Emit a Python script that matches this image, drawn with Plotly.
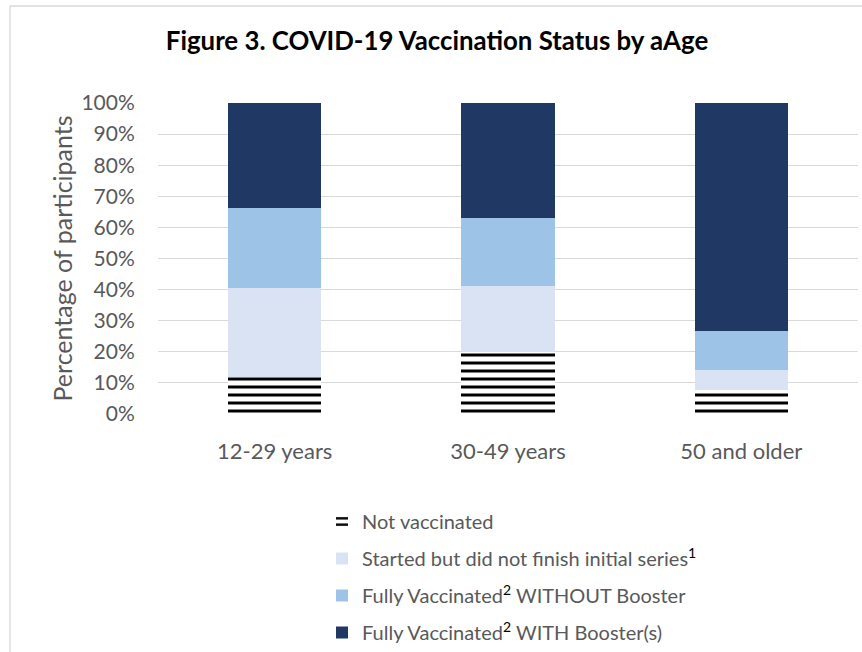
import plotly.graph_objects as go

categories = ["12-29 years", "30-49 years", "50 and older"]
not_vaccinated = [12.0, 19.8, 7.6]
started_not_finished = [28.4, 21.4, 6.6]
fully_without_booster = [26.0, 21.9, 12.6]
fully_with_booster = [33.6, 36.9, 73.2]
y_ticks = [0, 10, 20, 30, 40, 50, 60, 70, 80, 90, 100]
y_tick_labels = [f"{v}%" for v in y_ticks]

series_names = [
    "Not vaccinated",
    "Started but did not finish initial series<sup><span style='color:#000000'>1</span></sup>",
    "Fully Vaccinated<sup><span style='color:#000000'>2</span></sup> WITHOUT Booster",
    "Fully Vaccinated<sup><span style='color:#000000'>2</span></sup> WITH Booster(s)",
]
series_values = [not_vaccinated, started_not_finished, fully_without_booster, fully_with_booster]
series_colors = ["#ffffff", "#dae3f3", "#9dc3e6", "#203864"]

FONT = "Lato, 'Open Sans', sans-serif"
TXT = "#595959"

fig = go.Figure()
for i, (name, vals, col) in enumerate(zip(series_names, series_values, series_colors)):
    marker = dict(color=col, line=dict(width=0))
    if i == 0:
        marker["pattern"] = dict(shape="-", fgcolor="#000000", bgcolor="#ffffff",
                                 fgopacity=1, size=8, solidity=0.375, fillmode="replace")
    fig.add_trace(go.Bar(x=categories, y=vals, name=name, marker=marker,
                         legendgroup=f"g{i}", hoverinfo="skip"))

W, H = 862, 652
L, R, T, B = 158, 4, 103, 238
pw = W - L - R
ph = H - T - B

def px_x(x):
    return (x - L) / pw

def px_y(y):
    return (H - B - y) / ph

fig.update_layout(
    width=W, height=H,
    margin=dict(l=L, r=R, t=T, b=B, autoexpand=False),
    paper_bgcolor="#ffffff", plot_bgcolor="#ffffff",
    barmode="stack", bargap=0.6,
    font=dict(family=FONT, color=TXT),
    title=dict(text="<b>Figure 3. COVID-19 Vaccination Status by aAge</b>",
               x=437 / W, xref="container", xanchor="center",
               y=1 - 41 / H, yref="container", yanchor="middle",
               font=dict(family=FONT, size=25.8, color="#000000")),
    xaxis=dict(showgrid=False, showline=False, ticks="outside", ticklen=18,
               tickcolor="rgba(0,0,0,0)", tickfont=dict(size=22, color=TXT),
               fixedrange=True),
    yaxis=dict(range=[0, 100], tickvals=y_ticks, ticktext=y_tick_labels, showgrid=True,
               gridcolor="#d9d9d9", gridwidth=1.3, zeroline=False, showline=False,
               ticks="outside", ticklen=18, tickcolor="rgba(0,0,0,0)",
               tickfont=dict(size=21, color=TXT), fixedrange=True),
    legend=dict(orientation="v", traceorder="grouped", tracegroupgap=8,
                x=322 / W, xref="container", xanchor="left",
                y=1 - 502 / H, yref="container", yanchor="top",
                font=dict(size=20, color=TXT), bgcolor="rgba(0,0,0,0)"),
    annotations=[dict(text="Percentage of participants", textangle=-90,
                      xref="paper", yref="paper", x=px_x(61), y=px_y(258.5),
                      xanchor="center", yanchor="middle", showarrow=False,
                      font=dict(family=FONT, size=25, color=TXT))],
    shapes=[dict(type="rect", xref="paper", yref="paper",
                 x0=px_x(10), x1=px_x(880), y0=px_y(670), y1=px_y(6),
                 line=dict(color="#d9d9d9", width=1.3), fillcolor="rgba(0,0,0,0)",
                 layer="below")],
)

fig.write_html("out.html")
